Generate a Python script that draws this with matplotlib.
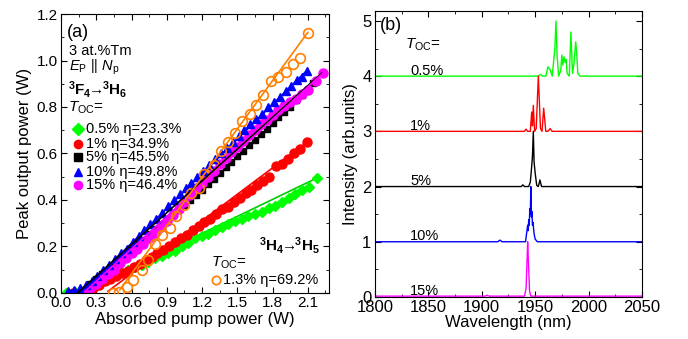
import matplotlib
matplotlib.use("Agg")
import matplotlib.pyplot as plt
from matplotlib.ticker import MultipleLocator, FormatStrFormatter

plt.rcParams["font.family"] = ["Liberation Sans", "DejaVu Sans"]
plt.rcParams["mathtext.fontset"] = "custom"
plt.rcParams["mathtext.rm"] = "Liberation Sans"
plt.rcParams["mathtext.it"] = "Liberation Sans:italic"
plt.rcParams["mathtext.bf"] = "Liberation Sans:bold"

# ---- panel (a): output power vs absorbed pump power ----
green_x = [0.04, 0.12, 0.20, 0.27, 0.33, 0.39, 0.45, 0.51, 0.57, 0.63, 0.69, 0.74, 0.80, 0.86, 0.91,
           0.97, 1.03, 1.08, 1.14, 1.20, 1.25, 1.31, 1.37, 1.42, 1.48, 1.54, 1.59, 1.65, 1.71, 1.77,
           1.82, 1.88, 1.94, 1.99, 2.05, 2.11, 2.18]
green_y = [0.00, 0.005, 0.01, 0.03, 0.05, 0.06, 0.075, 0.09, 0.10, 0.11, 0.12, 0.135, 0.15, 0.16, 0.17,
           0.18, 0.20, 0.215, 0.235, 0.245, 0.255, 0.27, 0.285, 0.295, 0.31, 0.32, 0.33, 0.34, 0.35, 0.365,
           0.375, 0.39, 0.41, 0.425, 0.445, 0.455, 0.495]

red_x = [0.10, 0.16, 0.22, 0.27, 0.32, 0.37, 0.42, 0.47, 0.52, 0.57, 0.62, 0.67, 0.72, 0.77, 0.82,
         0.87, 0.92, 0.97, 1.02, 1.07, 1.12, 1.17, 1.22, 1.27, 1.32, 1.37, 1.42, 1.47, 1.52, 1.57,
         1.62, 1.67, 1.72, 1.77, 1.83, 1.88, 1.93, 1.98, 2.03, 2.09]
red_y = [0.00, 0.00, 0.01, 0.02, 0.035, 0.05, 0.06, 0.075, 0.085, 0.095, 0.11, 0.125, 0.14, 0.155, 0.17,
         0.185, 0.20, 0.22, 0.235, 0.25, 0.27, 0.29, 0.305, 0.32, 0.34, 0.36, 0.37, 0.39, 0.41, 0.43,
         0.445, 0.465, 0.48, 0.50, 0.545, 0.555, 0.575, 0.60, 0.62, 0.648]

black_x = [0.10, 0.15, 0.20, 0.25, 0.30, 0.35, 0.40, 0.45, 0.50, 0.55, 0.60, 0.65, 0.70, 0.75, 0.80,
           0.85, 0.90, 0.95, 1.00, 1.05, 1.10, 1.15, 1.20, 1.25, 1.30, 1.35, 1.40, 1.45, 1.50, 1.55,
           1.60, 1.65, 1.70, 1.75, 1.80, 1.85, 1.90, 1.95, 2.00, 2.05, 2.10, 2.14]
black_y = [0.0, 0.0, 0.015, 0.04, 0.06, 0.08, 0.10, 0.12, 0.145, 0.165, 0.19, 0.21, 0.23, 0.255, 0.275,
           0.295, 0.32, 0.34, 0.36, 0.38, 0.40, 0.42, 0.445, 0.47, 0.49, 0.515, 0.54, 0.565, 0.59, 0.61,
           0.635, 0.66, 0.685, 0.705, 0.73, 0.755, 0.78, 0.80, 0.83, 0.85, 0.875, 0.905]

blue_x = [0.06, 0.11, 0.16, 0.21, 0.26, 0.31, 0.36, 0.41, 0.46, 0.51, 0.56, 0.61, 0.66, 0.71, 0.76,
          0.81, 0.86, 0.91, 0.96, 1.01, 1.06, 1.11, 1.16, 1.21, 1.26, 1.31, 1.36, 1.41, 1.46, 1.51,
          1.56, 1.61, 1.66, 1.71, 1.76, 1.81, 1.86, 1.91, 1.96, 2.01, 2.05, 2.09]
blue_y = [0.01, 0.015, 0.02, 0.035, 0.05, 0.075, 0.10, 0.12, 0.145, 0.17, 0.19, 0.22, 0.245, 0.27, 0.295,
          0.32, 0.345, 0.375, 0.40, 0.425, 0.45, 0.475, 0.50, 0.525, 0.55, 0.575, 0.60, 0.625, 0.65, 0.675,
          0.70, 0.725, 0.75, 0.77, 0.80, 0.82, 0.845, 0.87, 0.89, 0.915, 0.93, 0.955]

magenta_x = [0.20, 0.25, 0.30, 0.35, 0.40, 0.45, 0.50, 0.55, 0.60, 0.65, 0.70, 0.75, 0.80, 0.85, 0.90,
             0.95, 1.00, 1.05, 1.10, 1.15, 1.20, 1.25, 1.30, 1.35, 1.40, 1.45, 1.50, 1.55, 1.60, 1.65,
             1.70, 1.75, 1.80, 1.85, 1.90, 1.95, 2.00, 2.05, 2.10, 2.17, 2.23]
magenta_y = [0.0, 0.02, 0.04, 0.06, 0.08, 0.10, 0.13, 0.15, 0.17, 0.19, 0.21, 0.235, 0.26, 0.285, 0.31,
             0.335, 0.36, 0.39, 0.42, 0.45, 0.475, 0.50, 0.525, 0.555, 0.58, 0.605, 0.63, 0.655, 0.68, 0.70,
             0.725, 0.745, 0.765, 0.785, 0.805, 0.82, 0.835, 0.855, 0.875, 0.91, 0.945]

orange_x = [0.44, 0.49, 0.56, 0.61, 0.69, 0.74, 0.80, 0.86, 0.93, 0.98, 1.05, 1.11, 1.17, 1.22, 1.30,
            1.36, 1.42, 1.48, 1.54, 1.61, 1.66, 1.72, 1.79, 1.85, 1.91, 1.97, 2.03, 2.10]
orange_y = [0.0, 0.005, 0.025, 0.055, 0.10, 0.14, 0.21, 0.25, 0.28, 0.33, 0.38, 0.43, 0.45, 0.51, 0.55,
            0.61, 0.65, 0.69, 0.74, 0.77, 0.81, 0.85, 0.91, 0.93, 0.95, 0.985, 1.01, 1.12]

# linear fits: slope, threshold, drawn x-range, drawn above markers or not
fit_eta = [0.244, 0.379, 0.455, 0.498, 0.464, 0.692]
fit_thr = [0.15, 0.38, 0.14, 0.17, 0.19, 0.48]
fit_x0 = [0.30, 0.40, 0.12, 0.17, 0.20, 0.50]
fit_x1 = [2.18, 2.09, 2.22, 2.09, 2.23, 2.10]
fit_front = [False, False, True, False, True, True]

toc_labels = ["0.5% \u03b7=23.3%", "1% \u03b7=34.9%", "5% \u03b7=45.5%", "10% \u03b7=49.8%", "15% \u03b7=46.4%"]
orange_label = "1.3% \u03b7=69.2%"

# ---- panel (b): laser spectra ----
wl_05 = [1800, 1953, 1955, 1957, 1960, 1962, 1964, 1966, 1968.5, 1969.5, 1970.5, 1972, 1974, 1975,
         1976, 1977, 1978, 1979, 1980, 1982, 1983.5, 1985, 1986.5, 1988, 1989, 1990, 1992, 2050]
in_05 = [0, 0, 0.03, 0, 0, 0.17, 0.12, 0, 0.5, 1.0, 0.4, 0, 0.1, 0.38,
         0.2, 0.35, 0.25, 0.3, 0.05, 0, 0.8, 0.05, 0.25, 0.62, 0.4, 0.05, 0, 0]
wl_1 = [1800, 1940, 1941.5, 1943, 1945.5, 1946.8, 1947.5, 1948.3, 1949.5, 1951, 1953, 1955, 1956.5,
        1958, 1960, 1962, 1964, 1966, 2050]
in_1 = [0, 0, 0.04, 0, 0, 0.35, 0.1, 0.47, 0.0, 0.05, 1.0, 0.05, 0.0,
        0.42, 0.0, 0.0, 0.05, 0, 0]
wl_5 = [1800, 1937, 1938.5, 1940, 1944, 1945.5, 1946.5, 1947.5, 1948.3, 1949, 1950, 1951.5, 1953,
        1954.5, 1956, 2050]
in_5 = [0, 0, 0.03, 0, 0, 0.08, 0.3, 0.55, 1.0, 0.45, 0.25, 0.02, 0,
        0.12, 0, 0]
wl_10 = [1800, 1915, 1917, 1919, 1941, 1942, 1943, 1943.5, 1944, 1944.5, 1945, 1945.5, 1946, 1946.5,
         1947, 1947.5, 1948, 1949, 1950, 1952, 2050]
in_10 = [0, 0, 0.03, 0, 0, 0.15, 0.3, 0.2, 0.4, 0.3, 0.6, 0.5, 1.0, 0.45,
         0.55, 0.3, 0.35, 0.15, 0.05, 0, 0]
wl_15 = [1800, 1903, 1905, 1907, 1940, 1941.5, 1942.5, 1943, 1943.8, 1944.8, 1946, 2050]
in_15 = [0.015, 0.015, 0.03, 0.015, 0.015, 0.15, 0.7, 1.0, 0.6, 0.1, 0.015, 0.015]
spec_offsets = [4, 3, 2, 1, 0]
spec_labels = ["0.5%", "1%", "5%", "10%", "15%"]

colors = ["#00ff00", "#ff0000", "#000000", "#0000ff", "#ff00ff"]
orange = "#ff7f00"


def style_axes(ax, size):
    ax.tick_params(which="both", direction="in", top=True, right=True, labelsize=size, pad=2.5)
    ax.tick_params(which="major", length=4, width=0.8)
    ax.tick_params(which="minor", length=2, width=0.6)


fig = plt.figure(figsize=(6.88, 3.39), dpi=100)
ax1 = fig.add_axes([0.0887, 0.1357, 0.3895, 0.823])
ax2 = fig.add_axes([0.545, 0.124, 0.388, 0.8436])

# panel (a) markers
ax1.plot(green_x, green_y, "D", color=colors[0], ms=5.5, mec=colors[0], zorder=2)
ax1.plot(red_x, red_y, "o", color=colors[1], ms=6.5, mec=colors[1], zorder=2)
ax1.plot(black_x, black_y, "s", color=colors[2], ms=5, zorder=2)
ax1.plot(magenta_x, magenta_y, "o", color=colors[4], ms=6.5, mec=colors[4], zorder=2)
ax1.plot(blue_x, blue_y, "^", color=colors[3], ms=6, mec=colors[3], zorder=2)
ax1.plot(orange_x, orange_y, "o", mfc="none", mec=orange, mew=1.2, ms=7, zorder=3)

fit_colors = ["#00cc00", "#ff0000", "#000000", "#0000ff", "#ff00ff", orange]
for eta, thr, x0, x1, c, front in zip(fit_eta, fit_thr, fit_x0, fit_x1, fit_colors, fit_front):
    ax1.plot([x0, x1], [eta * (x0 - thr), eta * (x1 - thr)], "-", color=c, lw=1.2,
             zorder=4 if front else 1.5)

ax1.set_xlim(0, 2.28)
ax1.set_ylim(0, 1.2)
ax1.xaxis.set_major_locator(MultipleLocator(0.3))
ax1.xaxis.set_minor_locator(MultipleLocator(0.15))
ax1.yaxis.set_major_locator(MultipleLocator(0.2))
ax1.yaxis.set_minor_locator(MultipleLocator(0.1))
ax1.xaxis.set_major_formatter(FormatStrFormatter("%.1f"))
ax1.yaxis.set_major_formatter(FormatStrFormatter("%.1f"))
style_axes(ax1, 11)
ax1.set_xlabel("Absorbed pump power (W)", fontsize=12, labelpad=1)
ax1.set_ylabel("Peak output power (W)", fontsize=12, labelpad=3)

tr = ax1.transAxes
ax1.text(0.022, 0.935, "(a)", transform=tr, fontsize=13, va="center")
ax1.text(0.03, 0.868, "3 at.%Tm", transform=tr, fontsize=10.5, va="center")
ax1.text(0.03, 0.808, r"$E_{\mathrm{P}}$ || $N_{\mathrm{p}}$", transform=tr, fontsize=10.5, va="center")
ax1.text(0.025, 0.728, r"$\mathbf{^{3}F_{4}}\!\!\rightarrow\!\!\mathbf{^{3}H_{6}}$", transform=tr,
         fontsize=11, va="center")
ax1.text(0.025, 0.663, r"$T_{\mathrm{OC}}$=", transform=tr, fontsize=11, va="center")
leg_y = [0.588, 0.533, 0.486, 0.434, 0.387]
leg_marker = ["D", "o", "s", "^", "o"]
for yy, m, c, lab in zip(leg_y, leg_marker, colors, toc_labels):
    ax1.plot([0.063], [yy], m, color=c, mec=c, ms=6 if m != "s" else 5.5, transform=tr, clip_on=False)
    ax1.text(0.093, yy, lab, transform=tr, fontsize=10.5, va="center")

ax1.text(0.966, 0.172, r"$\mathbf{^{3}H_{4}}\!\!\rightarrow\!\!\mathbf{^{3}H_{5}}$", transform=tr,
         fontsize=11, va="center", ha="right")
ax1.text(0.56, 0.108, r"$T_{\mathrm{OC}}$=", transform=tr, fontsize=11, va="center")
ax1.plot([0.578], [0.047], "o", mfc="none", mec=orange, mew=1.2, ms=6, transform=tr)
ax1.text(0.606, 0.047, orange_label, transform=tr, fontsize=10.5, va="center")

# panel (b) spectra
spectra = [(wl_05, in_05), (wl_1, in_1), (wl_5, in_5), (wl_10, in_10), (wl_15, in_15)]
for (wl, inten), off, c, lab in zip(spectra, spec_offsets, colors, spec_labels):
    ax2.plot(wl, [v + off for v in inten], color=c, lw=1.0)
    ax2.text(1833, off + 0.1, lab, fontsize=10.5, va="center")

ax2.text(1805, 4.92, "(b)", fontsize=13, va="center")
ax2.text(1828, 4.56, r"$T_{\mathrm{OC}}$=", fontsize=11, va="center")

ax2.set_xlim(1800, 2050)
ax2.set_ylim(0, 5.18)
ax2.xaxis.set_major_locator(MultipleLocator(50))
ax2.xaxis.set_minor_locator(MultipleLocator(25))
ax2.yaxis.set_major_locator(MultipleLocator(1))
ax2.yaxis.set_minor_locator(MultipleLocator(0.5))
style_axes(ax2, 12)
ax2.set_xlabel("Wavelength (nm)", fontsize=12, labelpad=0)
ax2.set_ylabel("Intensity (arb.units)", fontsize=12, labelpad=3)

fig.savefig("out.png", dpi=100)
